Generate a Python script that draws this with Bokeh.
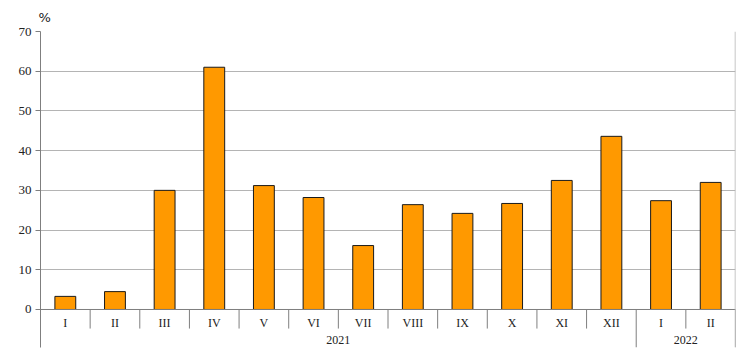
from bokeh.plotting import figure
from bokeh.models import Range1d, FixedTicker, Span, ColumnDataSource
from bokeh.core.properties import value
from bokeh.embed import file_html
from bokeh.resources import INLINE

months = ["I", "II", "III", "IV", "V", "VI", "VII", "VIII", "IX", "X", "XI", "XII", "I", "II"]
years = ["2021"] * 12 + ["2022"] * 2
values = [3.3, 4.5, 30.0, 61.0, 31.2, 28.2, 16.1, 26.4, 24.2, 26.7, 32.5, 43.6, 27.4, 32.0]
y_ticks = [0, 10, 20, 30, 40, 50, 60, 70]

n = len(months)
FONT = "Liberation Serif"
AXIS_C = "#7f7f7f"
GRID_C = "#b4b4b4"

y_max = max(y_ticks)
y_min = -9.57

p = figure(width=740, height=355, output_backend="svg", toolbar_location=None,
           x_range=Range1d(0, n), y_range=Range1d(y_min, y_max),
           x_axis_location=None, min_border_left=40, min_border_right=5,
           min_border_top=31, min_border_bottom=8, title="%")
p.title.align = "left"
p.title.vertical_align = "top"
p.title.offset = -2
p.title.text_font = "DejaVu Sans"
p.title.text_font_size = "13px"
p.title.text_font_style = "normal"
p.title.text_color = "#222222"
p.title.standoff = 10

p.outline_line_color = None
p.xgrid.visible = False
p.ygrid.grid_line_color = GRID_C
p.ygrid.ticker = FixedTicker(ticks=y_ticks)

ax = p.yaxis[0]
ax.ticker = FixedTicker(ticks=y_ticks)
ax.minor_tick_line_color = None
ax.major_tick_in = 0
ax.major_tick_out = 5
ax.axis_line_color = AXIS_C
ax.major_tick_line_color = AXIS_C
ax.major_label_text_font = FONT
ax.major_label_text_font_size = "13px"
ax.major_label_text_color = "#222222"
ax.major_label_standoff = 4

xs = [i + 0.5 for i in range(n)]
src = ColumnDataSource(dict(x=xs, top=values, label=months))
p.vbar(x="x", top="top", width=0.42, bottom=0, source=src,
       fill_color="#FF9900", line_color="#1a1a1a", line_width=1)

p.add_layout(Span(location=0, dimension="width", line_color=AXIS_C, line_width=1))
p.add_layout(Span(location=n, dimension="height", line_color=GRID_C, line_width=1.5))

# month separators
year_bounds = [0]
for i in range(1, n):
    if years[i] != years[i - 1]:
        year_bounds.append(i)
year_bounds.append(n)
month_bounds = [i for i in range(1, n) if i not in year_bounds]
p.segment(x0=month_bounds, x1=month_bounds, y0=[0] * len(month_bounds),
          y1=[-4.8] * len(month_bounds), line_color=AXIS_C, line_width=1)
yb = year_bounds[1:]
p.segment(x0=yb, x1=yb, y0=[0] * len(yb), y1=[y_min] * len(yb),
          line_color=AXIS_C, line_width=1)

p.text(x="x", y=-3.3, text="label", source=src, text_align="center",
       text_baseline="middle", text_font=value(FONT), text_font_size="12px",
       text_color="#222222")

yc = [(year_bounds[k] + year_bounds[k + 1]) / 2 for k in range(len(year_bounds) - 1)]
yl = [years[year_bounds[k]] for k in range(len(year_bounds) - 1)]
p.text(x=yc, y=[-7.8] * len(yc), text=yl, text_align="center",
       text_baseline="middle", text_font=value(FONT), text_font_size="12px",
       text_color="#222222")

open("out.html", "w").write(file_html(p, INLINE))
